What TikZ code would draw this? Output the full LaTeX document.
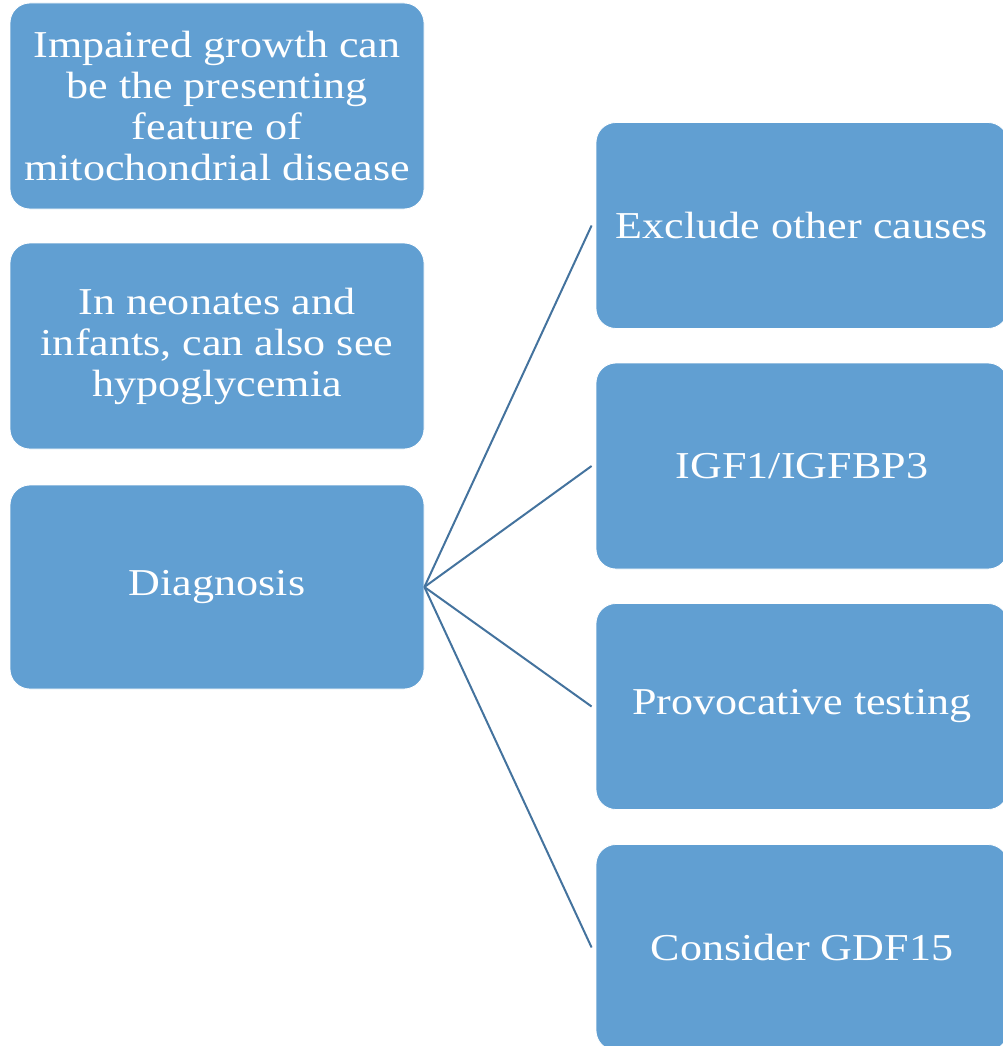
\documentclass[tikz,border=0pt]{standalone}
\usepackage{fontspec}
\setmainfont[FakeStretch=1.16]{Liberation Serif}
\definecolor{boxblue}{HTML}{619FD2}
\definecolor{lineblue}{HTML}{44739E}
\begin{document}
\begin{tikzpicture}[x=1pt,y=-1pt,
  box/.style={rectangle, rounded corners=20pt, fill=boxblue, draw=white, line width=0.8pt,
    text=white, align=center, font=\fontsize{38}{41}\selectfont, inner sep=0pt},
  lbox/.style={box, minimum width=414pt, minimum height=206pt},
  rbox/.style={box, minimum width=412pt, minimum height=206pt},
  conn/.style={draw=lineblue, line width=2pt}]
\useasboundingbox (0,0) rectangle (1003,1046);
\clip (0,0) rectangle (1003,1046);
\node[lbox] (a) at (217,106) {Impaired growth can\\be the presenting\\feature of\\mitochondrial disease};
\node[lbox] (b) at (217,346) {In neonates and\\infants, can also see\\hypoglycemia};
\node[lbox, minimum height=204pt] (diag) at (217,587) {Diagnosis};
\node[rbox] (r1) at (802,225.5) {Exclude other causes};
\node[rbox] (r2) at (802,466) {IGF1/IGFBP3};
\node[rbox] (r3) at (802,706.5) {Provocative testing};
\node[rbox] (r4) at (802,947.5) {Consider GDF15};
\foreach \r in {r1,r2,r3,r4}
  \draw[conn] (diag.east) -- ([xshift=-4pt]\r.west);
\end{tikzpicture}
\end{document}
